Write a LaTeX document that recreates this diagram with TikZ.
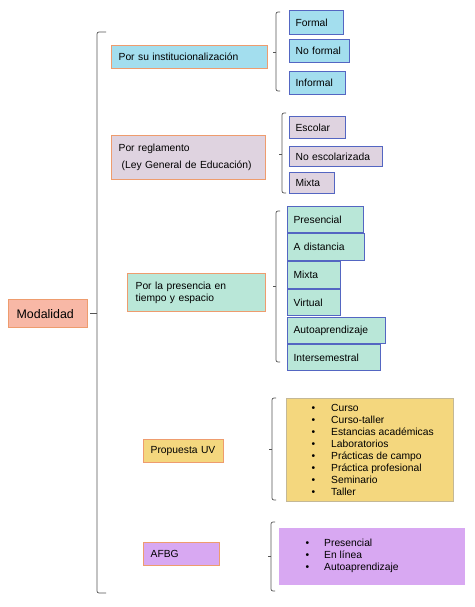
\documentclass[tikz,border=0pt]{standalone}
\usepackage{fontspec}
\setmainfont{Liberation Sans}
\usetikzlibrary{positioning}

\definecolor{boxorange}{HTML}{EE9C6E}
\definecolor{leafblue}{HTML}{5466C2}
\definecolor{skyfill}{HTML}{A3DEEE}
\definecolor{lilacfill}{HTML}{DFD3E0}
\definecolor{mintfill}{HTML}{B9E7D8}
\definecolor{sandfill}{HTML}{F4D77E}
\definecolor{sandline}{HTML}{C4B896}
\definecolor{violetfill}{HTML}{D8A8F2}
\definecolor{salmonfill}{HTML}{F8B8A6}
\definecolor{bracegray}{HTML}{555555}

\tikzset{
	every node/.style={font=\fontsize{10.3}{12}\selectfont},
	headbox/.style={draw=boxorange, line width=1.3pt, anchor=north west, inner xsep=7pt, inner ysep=0pt, align=left},
	leafbox/.style={draw=leafblue, line width=1.2pt, anchor=north west, inner xsep=6pt, inner ysep=0pt, align=left},
	brace/.style={draw=bracegray, line width=0.7pt, rounded corners=2pt},
	listtext/.style={anchor=west, inner sep=0pt, align=left, font=\fontsize{10.3}{11.9}\selectfont},
}

% x, top, bottom, middle, end length, tick length
\def\sidebrace(#1:#2:#3:#4:#5:#6){\draw[brace] (#1+#5,#2) -- (#1,#2) -- (#1,#3) -- (#1+#5,#3); \draw[brace] (#1,#4) -- (#1-#6,#4);}

\begin{document}
\begin{tikzpicture}[x=1pt, y=-1pt]
			%%%%% START %%%%%
			\useasboundingbox[fill=white] (0,0) rectangle (474,607);
			
			\node[headbox, fill=salmonfill, inner xsep=8pt, text width=63pt, minimum height=28pt, font=\fontsize{12.4}{14}\selectfont] (modalidad) at (8,299) {Modalidad};
			\sidebrace(97:32:593:313:9:7)
			
			\node[headbox, fill=skyfill, text width=142pt, minimum height=23pt] (inst) at (111,45) {Por su institucionalización};
			\sidebrace(276:12:91:52:4:3)
			\node[leafbox, fill=skyfill, text width=42pt, minimum height=24pt] (formal) at (289,10) {Formal};
			\node[leafbox, fill=skyfill, text width=48pt, minimum height=23pt] (noformal) at (289,39) {No formal};
			\node[leafbox, fill=skyfill, text width=44pt, minimum height=23pt] (informal) at (289,71) {Informal};
			
			\node[headbox, fill=lilacfill, text width=140pt, minimum height=44pt] (regl) at (111,135) {Por reglamento\\[5pt]\hspace*{3pt}(Ley General de Educación)};
			\sidebrace(282:113:193:154:4:3)
			\node[leafbox, fill=lilacfill, text width=44pt, minimum height=22pt] (escolar) at (289,116) {Escolar};
			\node[leafbox, fill=lilacfill, text width=81pt, minimum height=20pt] (noesc) at (289,146) {No escolarizada};
			\node[leafbox, fill=lilacfill, text width=33pt, minimum height=21pt] (mixtareg) at (289,172) {Mixta};
			
			\node[headbox, fill=mintfill, inner xsep=8pt, text width=122pt, minimum height=38pt, font=\fontsize{10.3}{11.5}\selectfont] (pres) at (127,273) {Por la presencia en\\tiempo y espacio};
			\sidebrace(276:211:362:286:4:3)
			\node[leafbox, fill=mintfill, text width=64pt, minimum height=26pt] (presencial) at (287,206) {Presencial};
			\node[leafbox, fill=mintfill, text width=65pt, minimum height=27pt] (distancia) at (287,233) {A distancia};
			\node[leafbox, fill=mintfill, text width=41pt, minimum height=27pt] (mixtapres) at (287,261) {Mixta};
			\node[leafbox, fill=mintfill, text width=41pt, minimum height=26pt] (virtual) at (287,289) {Virtual};
			\node[leafbox, fill=mintfill, text width=86pt, minimum height=26pt] (autoapr) at (287,317) {Autoaprendizaje};
			\node[leafbox, fill=mintfill, text width=81pt, minimum height=26pt] (intersem) at (287,344) {Intersemestral};
			
			\node[headbox, fill=sandfill, text width=66pt, minimum height=23pt] (propuv) at (143,439) {Propuesta UV};
			\sidebrace(272:398:500:449:4:3)
			\node[draw=sandline, fill=sandfill, line width=1.2pt, anchor=north west, minimum width=167pt, minimum height=103pt] (uvlist) at (286,398) {};
			\node[listtext] (uvitems) at (311.5,450) {%
				\makebox[19.5pt][l]{\textbullet}Curso\\
				\makebox[19.5pt][l]{\textbullet}Curso-taller\\
				\makebox[19.5pt][l]{\textbullet}Estancias académicas\\
				\makebox[19.5pt][l]{\textbullet}Laboratorios\\
				\makebox[19.5pt][l]{\textbullet}Prácticas de campo\\
				\makebox[19.5pt][l]{\textbullet}Práctica profesional\\
				\makebox[19.5pt][l]{\textbullet}Seminario\\
				\makebox[19.5pt][l]{\textbullet}Taller};
			
			\node[headbox, fill=violetfill, text width=62pt, minimum height=23pt] (afbg) at (143,542) {AFBG};
			\sidebrace(271:522:591:556:4:3)
			\node[draw=violetfill, fill=violetfill, line width=0.9pt, anchor=north west, minimum width=185pt, minimum height=56pt] (afbglist) at (279,528) {};
			\node[listtext] (afbgitems) at (305.5,556) {%
				\makebox[18.5pt][l]{\textbullet}Presencial\\
				\makebox[18.5pt][l]{\textbullet}En línea\\
				\makebox[18.5pt][l]{\textbullet}Autoaprendizaje};
			
			%%%%% END %%%%%
\end{tikzpicture}
\end{document}
